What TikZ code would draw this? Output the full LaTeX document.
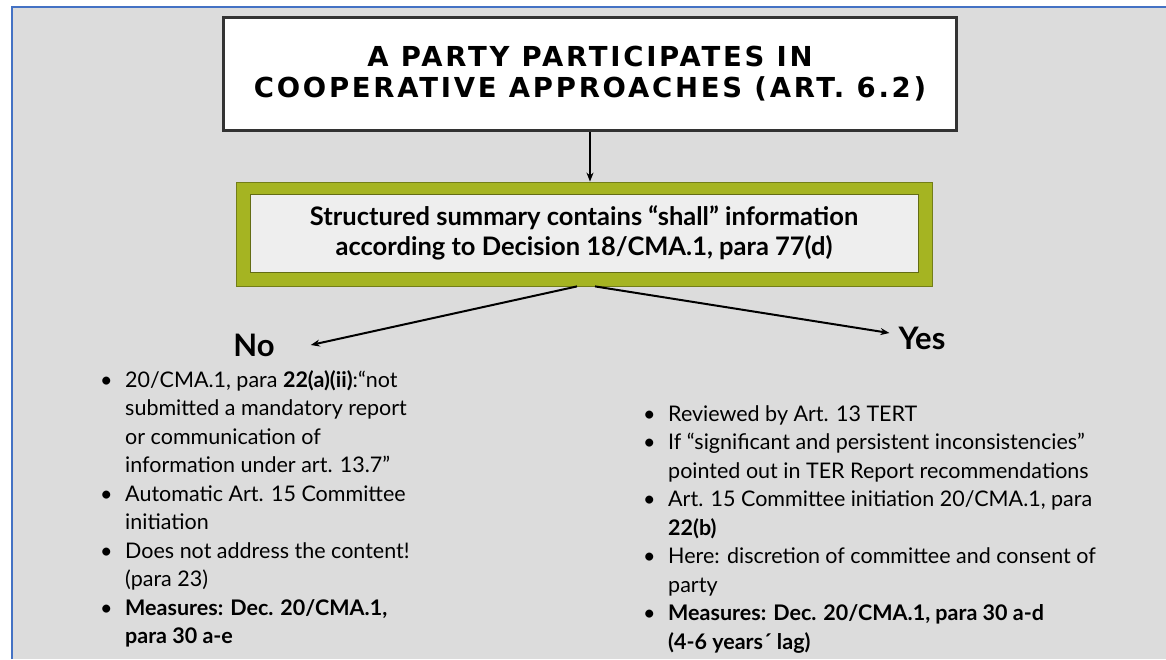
\documentclass[tikz,border=0pt]{standalone}
\usepackage{fontspec}
\setmainfont{Lato}
\newfontfamily\headfont[LetterSpace=10]{DejaVu Sans}
\usetikzlibrary{arrows.meta}

\definecolor{slidegray}{HTML}{DCDCDC}
\definecolor{frameblue}{HTML}{4472C4}
\definecolor{boxgreen}{HTML}{A5B422}
\definecolor{innergray}{HTML}{EEEEEE}
\definecolor{darkline}{HTML}{333333}

\newcommand{\bullmark}{\makebox[27pt][l]{\kern2pt•}}
\newcommand{\bullskip}{\hspace*{27pt}}

\begin{document}
\begin{tikzpicture}[x=1pt,y=-1pt,
    every node/.style={inner sep=0pt},
    titlebox/.style={draw=darkline,line width=3pt,fill=white,minimum width=733pt,minimum height=113pt,align=center,font=\headfont\bfseries\fontsize{27.5}{31}\selectfont},
    greenbox/.style={fill=boxgreen,draw=boxgreen!70!black,line width=0.8pt,minimum width=696pt,minimum height=104pt},
    innerbox/.style={fill=innergray,draw=boxgreen!60!black,line width=0.6pt,minimum width=668pt,minimum height=78pt,align=center,font=\bfseries\fontsize{25.5}{30}\selectfont},
    answer/.style={font=\bfseries\fontsize{31}{32}\selectfont},
    listtext/.style={align=left,font=\fontsize{21.5}{28.5}\selectfont},
    flow/.style={line width=2pt,-{Stealth[length=9pt,width=7pt]}}]
    \useasboundingbox (0,0) rectangle (1166,659);
    % slide background
    \fill[slidegray] (12,7) rectangle (1166,659);
    \draw[frameblue,line width=2pt] (12,659) -- (12,7) -- (1166,7);

    \node[titlebox] (party) at (590,74) {A PARTY PARTICIPATES IN\\COOPERATIVE APPROACHES (ART. 6.2)};

    \node[greenbox] (summary) at (584,234) {};
    \node[innerbox] (summarytext) at (584,233) {Structured summary contains “shall” information\\according to Decision 18/CMA.1, para 77(d)};

    \node[answer] (no) at (254,345) {No};
    \node[answer] (yes) at (922,338) {Yes};

    \draw[line width=1.6pt,-{Stealth[length=9pt,width=7pt]}] (party.south) -- (party.south |- summary.north);
    \draw[flow] ([xshift=-7pt]summary.south) -- ([xshift=36pt]no.east);
    \draw[flow] ([xshift=11pt]summary.south) -- ([xshift=-9pt,yshift=5pt]yes.west);

    \node[listtext,anchor=north west] (nolist) at (98,370) {%
      \bullmark 20/CMA.1, para \textbf{22(a)(ii)}:“not\\
      \bullskip submitted a mandatory report\\
      \bullskip or communication of\\
      \bullskip information under art. 13.7”\\
      \bullmark Automatic Art. 15 Committee\\
      \bullskip initiation\\
      \bullmark Does not address the content!\\
      \bullskip (para 23)\\
      \bullmark\textbf{Measures: Dec. 20/CMA.1,}\\
      \bullskip\textbf{para 30 a-e}};

    \node[listtext,anchor=north west] (yeslist) at (641,405) {%
      \bullmark Reviewed by Art. 13 TERT\\
      \bullmark If “significant and persistent inconsistencies”\\
      \bullskip pointed out in TER Report recommendations\\
      \bullmark Art. 15 Committee initiation 20/CMA.1, para\\
      \bullskip\textbf{22(b)}\\
      \bullmark Here: discretion of committee and consent of\\
      \bullskip party\\
      \bullmark\textbf{Measures: Dec. 20/CMA.1, para 30 a-d}\\
      \bullskip\textbf{(4-6 years´ lag)}};
\end{tikzpicture}
\end{document}
